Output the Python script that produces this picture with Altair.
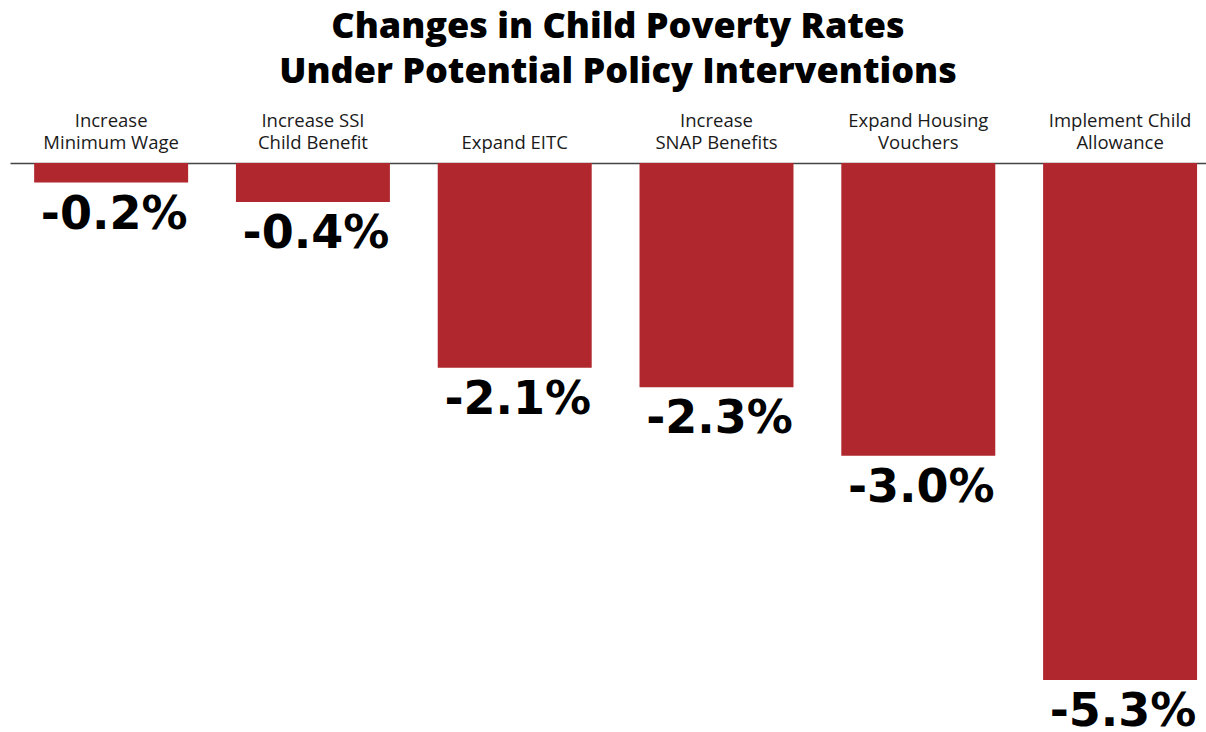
import altair as alt
import pandas as pd

categories = [
    "Increase\nMinimum Wage",
    "Increase SSI\nChild Benefit",
    "Expand EITC",
    "Increase\nSNAP Benefits",
    "Expand Housing\nVouchers",
    "Implement Child\nAllowance",
]
values = [-0.2, -0.4, -2.1, -2.3, -3.0, -5.3]
labels = [f"{v:.1f}%" for v in values]

df = pd.DataFrame({"category": categories, "value": values, "label": labels})

x = alt.X(
    "category:N",
    sort=categories,
    scale=alt.Scale(paddingInner=0.237, paddingOuter=0.082, align=0.73),
    axis=alt.Axis(
        orient="top",
        title=None,
        labelAngle=0,
        labelExpr="length(split(datum.label, '\\n')) == 1 ? ['', datum.label] : split(datum.label, '\\n')",
        labelFont="Open Sans",
        labelFontSize=18.5,
        labelColor="#1a1a1a",
        labelLineHeight=22,
        labelBaseline="bottom",
        labelPadding=33,
        labelLimit=0,
        ticks=False,
        tickSize=0,
        domainColor="#444444",
        domainWidth=1.5,
        grid=False,
    ),
)
y = alt.Y(
    "value:Q",
    scale=alt.Scale(domain=[-5.3, 0], nice=False),
    axis=None,
)

bars = alt.Chart(df).mark_bar(color="#B0272E").encode(x=x, y=y)
text = alt.Chart(df).mark_text(
    baseline="alphabetic",
    dy=46,
    dx=3,
    fontSize=46,
    font="DejaVu Sans",
    fontWeight="bold",
    color="#000000",
).encode(x=x, y=y, text="label:N")

chart = (
    alt.layer(bars, text)
    .properties(
        width=1196,
        height=517,
        background="white",
        title=alt.TitleParams(
            text=["Changes in Child Poverty Rates", "Under Potential Policy Interventions"],
            font="Open Sans",
            fontSize=36,
            fontWeight=800,
            color="#000000",
            lineHeight=45,
            anchor="middle",
            dx=10,
            offset=20,
        ),
        autosize=alt.AutoSizeParams(type="none"),
        padding={"left": 10, "top": 163, "right": 0, "bottom": 52},
    )
    .configure_view(strokeWidth=0, stroke=None)
)

chart.save("out.html", embed_options={"renderer": "svg", "actions": False})
